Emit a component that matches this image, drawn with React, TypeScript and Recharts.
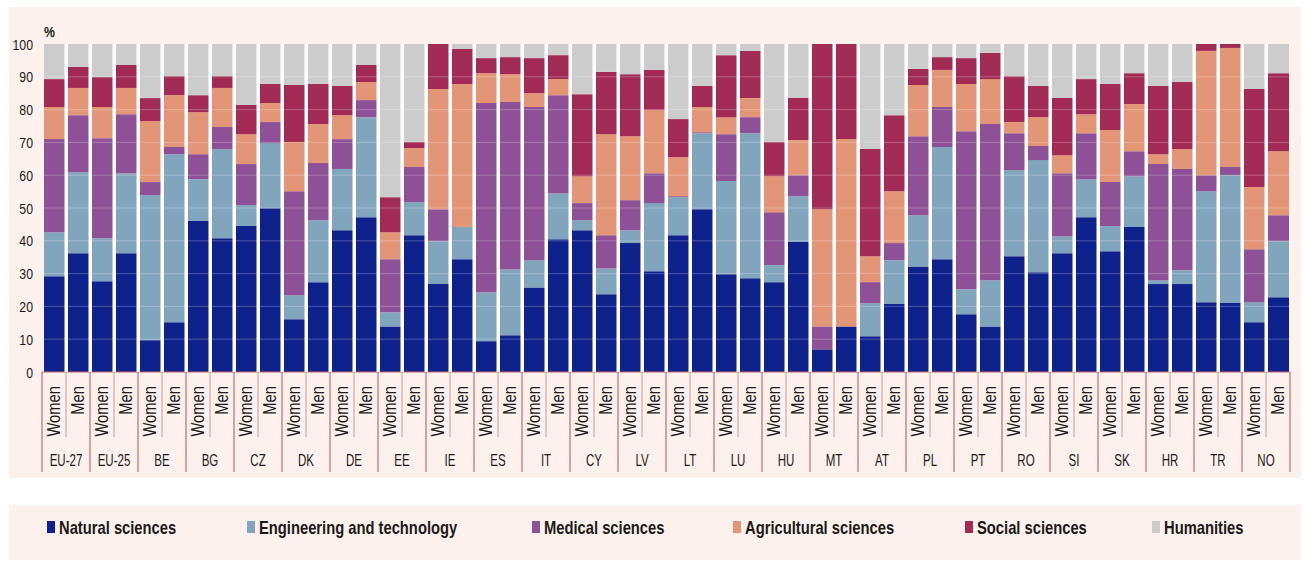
import React from 'react';
import { BarChart, Bar, XAxis, YAxis, ReferenceLine } from 'recharts';

// ---------- data ----------
const countries = ['EU-27', 'EU-25', 'BE', 'BG', 'CZ', 'DK', 'DE', 'EE', 'IE', 'ES', 'IT', 'CY', 'LV', 'LT', 'LU', 'HU', 'MT', 'AT', 'PL', 'PT', 'RO', 'SI', 'SK', 'HR', 'TR', 'NO'];
const sexes = ['Women', 'Men'];

const natural = [29.2, 36.2, 27.7, 36.2, 9.7, 15.2, 46.0, 40.8, 44.5, 49.9, 16.1, 27.4, 43.2, 47.2, 13.9, 41.7, 26.8, 34.4, 9.4, 11.2, 25.8, 40.5, 43.2, 23.7, 39.3, 30.7, 41.7, 49.6, 29.8, 28.6, 27.4, 39.6, 6.9, 13.9, 10.9, 20.7, 32.2, 34.4, 17.6, 13.9, 35.3, 30.4, 36.2, 47.2, 36.8, 44.2, 26.8, 26.8, 21.3, 21.0, 15.2, 22.8];
const engineering = [13.4, 24.7, 13.1, 24.4, 44.2, 51.2, 12.8, 27.2, 6.4, 19.9, 7.3, 18.9, 18.7, 30.5, 4.3, 10.1, 13.1, 9.8, 14.9, 20.1, 8.3, 14.0, 3.1, 7.9, 3.9, 20.8, 11.6, 23.2, 28.4, 44.2, 5.2, 14.0, 0, 0, 10.1, 13.4, 15.6, 34.2, 7.6, 14.1, 26.2, 34.2, 5.2, 11.6, 7.7, 15.5, 1.2, 4.2, 33.8, 39.0, 6.1, 17.1];
const medical = [28.4, 17.4, 30.5, 18.0, 4.0, 2.2, 7.6, 6.7, 12.5, 6.4, 31.7, 17.4, 9.1, 5.2, 16.2, 10.7, 9.7, 0, 57.7, 51.0, 46.7, 29.9, 5.2, 10.1, 9.2, 9.1, 0.3, 0.3, 14.3, 4.9, 16.1, 6.4, 7.0, 0, 6.4, 5.2, 24.1, 12.2, 48.2, 47.6, 11.3, 4.3, 19.2, 14.0, 13.4, 7.6, 35.4, 30.9, 4.9, 2.5, 16.1, 7.9];
const agricultural = [9.8, 8.3, 9.5, 8.0, 18.6, 15.8, 12.8, 11.9, 9.1, 5.8, 15.0, 11.9, 7.3, 5.5, 8.2, 5.8, 36.7, 43.6, 9.1, 8.5, 4.2, 4.9, 8.2, 30.8, 19.5, 19.3, 11.9, 7.7, 5.2, 5.8, 11.0, 10.7, 35.7, 57.1, 7.9, 15.8, 15.6, 11.3, 14.4, 13.7, 3.4, 8.8, 5.5, 5.8, 15.9, 14.4, 3.0, 6.1, 37.9, 36.3, 19.0, 19.5];
const social = [8.5, 6.4, 9.1, 7.0, 7.0, 5.8, 5.2, 3.6, 8.9, 5.8, 17.4, 12.2, 8.9, 5.2, 10.7, 1.8, 13.7, 10.7, 4.6, 5.2, 10.7, 7.3, 25.0, 19.0, 18.9, 12.2, 11.6, 6.4, 18.9, 14.4, 10.4, 12.8, 50.4, 29.0, 32.7, 23.2, 4.9, 3.9, 7.9, 8.0, 14.0, 9.5, 17.4, 10.7, 14.0, 9.4, 20.8, 20.4, 2.1, 1.2, 29.9, 23.8];
const humanities = [10.7, 7.0, 10.1, 6.4, 16.5, 9.8, 15.6, 9.8, 18.6, 12.2, 12.5, 12.2, 12.8, 6.4, 46.7, 29.9, 0, 1.5, 4.3, 4.0, 4.3, 3.4, 15.3, 8.5, 9.2, 7.9, 22.9, 12.8, 3.4, 2.1, 29.9, 16.5, 0, 0, 32.0, 21.7, 7.6, 4.0, 4.3, 2.7, 9.8, 12.8, 16.5, 10.7, 12.2, 8.9, 12.8, 11.6, 0, 0, 13.7, 8.9];

const yTicks = [0, 10, 20, 30, 40, 50, 60, 70, 80, 90, 100];
const gridValues = [10, 20, 30, 40, 50, 60, 70, 80, 90];

const series = [
  { key: 'natural', name: 'Natural sciences', color: '#0F218B', values: natural },
  { key: 'engineering', name: 'Engineering and technology', color: '#82A5BE', values: engineering },
  { key: 'medical', name: 'Medical sciences', color: '#8E5096', values: medical },
  { key: 'agricultural', name: 'Agricultural sciences', color: '#E39677', values: agricultural },
  { key: 'social', name: 'Social sciences', color: '#A22B55', values: social },
  { key: 'humanities', name: 'Humanities', color: '#CCCCCC', values: humanities },
];

const rows = countries.flatMap((country, ci) =>
  sexes.map((sex, si) => {
    const i = ci * 2 + si;
    const row: any = { id: `${country} ${sex}`, country, sex };
    series.forEach((s) => { row[s.key] = s.values[i]; });
    return row;
  })
);

// ---------- layout ----------
const W = 1306;
const H = 580;
const FONT = "'Liberation Sans', Arial, sans-serif";
const Y_AXIS_W = 42;
const MARGIN = { top: 44, right: 16, bottom: 0, left: 0 };
const X_AXIS_H = 208;
const PLOT_TOP = MARGIN.top;
const PLOT_BOTTOM = H - X_AXIS_H - MARGIN.bottom;
const PLOT_W = W - Y_AXIS_W - MARGIN.left - MARGIN.right;
const BAND = PLOT_W / rows.length;
const BG = '#FCF1EC';
const LONG_TICK = '#C46A73';
const SHORT_TICK = '#D9A3A8';
const TEXT = '#1a1a1a';

const legendX = [47, 247, 532, 733, 965, 1152];

function NarrowText(props: any) {
  const { x, y, size, weight = 'normal', anchor = 'start', sx = 0.82, rotate = 0, children } = props;
  return (
    <text
      transform={`translate(${x} ${y}) rotate(${rotate}) scale(${sx} 1)`}
      x={0} y={0} textAnchor={anchor}
      fontFamily={FONT} fontSize={size} fontWeight={weight} fill={TEXT}
    >
      {children}
    </text>
  );
}

function SexTick(props: any) {
  const { x, payload } = props;
  const i = payload.index;
  const d = rows[i];
  const left = x - BAND / 2;
  return (
    <g>
      {i > 0 && (
        <rect x={left - 1.5} y={PLOT_TOP} width={3} height={PLOT_BOTTOM - PLOT_TOP} fill="#ffffff" />
      )}
      <line
        x1={left} x2={left} y1={PLOT_BOTTOM}
        y2={d.sex === 'Women' ? PLOT_BOTTOM + 100 : PLOT_BOTTOM + 65}
        stroke={d.sex === 'Women' ? LONG_TICK : SHORT_TICK} strokeWidth={1.2}
      />
      {i === rows.length - 1 && (
        <line x1={x + BAND / 2} x2={x + BAND / 2} y1={PLOT_BOTTOM} y2={PLOT_BOTTOM + 100} stroke={LONG_TICK} strokeWidth={1.2} />
      )}
      <NarrowText x={x + 6} y={PLOT_BOTTOM + 14} size={18} anchor="end" rotate={-90}>
        {d.sex}
      </NarrowText>
      {d.sex === 'Men' && (
        <NarrowText x={left} y={PLOT_BOTTOM + 94} size={16} anchor="middle" sx={0.72}>
          {d.country}
        </NarrowText>
      )}
    </g>
  );
}

function YTick(props: any) {
  const { y, payload } = props;
  return (
    <NarrowText x={Y_AXIS_W - 9} y={y + 5.5} size={15} anchor="end">
      {payload.value}
    </NarrowText>
  );
}

export default function App() {
  return (
    <div style={{ position: 'absolute', left: 0, top: 0, width: W, height: H, background: '#ffffff' }}>
      <div style={{ position: 'absolute', left: 9, top: 7, width: 1292, height: 471, background: BG }} />
      <div style={{ position: 'absolute', left: 9, top: 505, width: 1292, height: 55, background: BG }} />
      <div style={{ position: 'absolute', left: 0, top: 0 }}>
        <BarChart width={W} height={H} data={rows} margin={MARGIN} barCategoryGap={0}>
          <XAxis
            dataKey="id" interval={0} tickLine={false} height={X_AXIS_H}
            axisLine={{ stroke: LONG_TICK, strokeWidth: 1.2 }}
            tick={(p: any) => <SexTick {...p} />}
          />
          <YAxis
            type="number" domain={[0, 100]} ticks={yTicks} allowDataOverflow
            axisLine={false} tickLine={false} width={Y_AXIS_W}
            tick={(p: any) => <YTick {...p} />}
          />
          {series.map((s) => (
            <Bar key={s.key} dataKey={s.key} name={s.name} stackId="a" fill={s.color} barSize={21} isAnimationActive={false} />
          ))}
          {gridValues.map((v) => (
            <ReferenceLine key={v} y={v} stroke="#ffffff" strokeOpacity={0.25} strokeWidth={1} />
          ))}
        </BarChart>
      </div>
      <svg style={{ position: 'absolute', left: 0, top: 0 }} width={W} height={H}>
        <NarrowText x={44} y={37} size={15} weight="bold">%</NarrowText>
        {series.map((s, i) => (
          <g key={s.key}>
            <rect x={legendX[i]} y={521} width={8} height={12} fill={s.color} />
            <NarrowText x={legendX[i] + 12} y={534} size={18} weight="bold">{s.name}</NarrowText>
          </g>
        ))}
      </svg>
    </div>
  );
}
